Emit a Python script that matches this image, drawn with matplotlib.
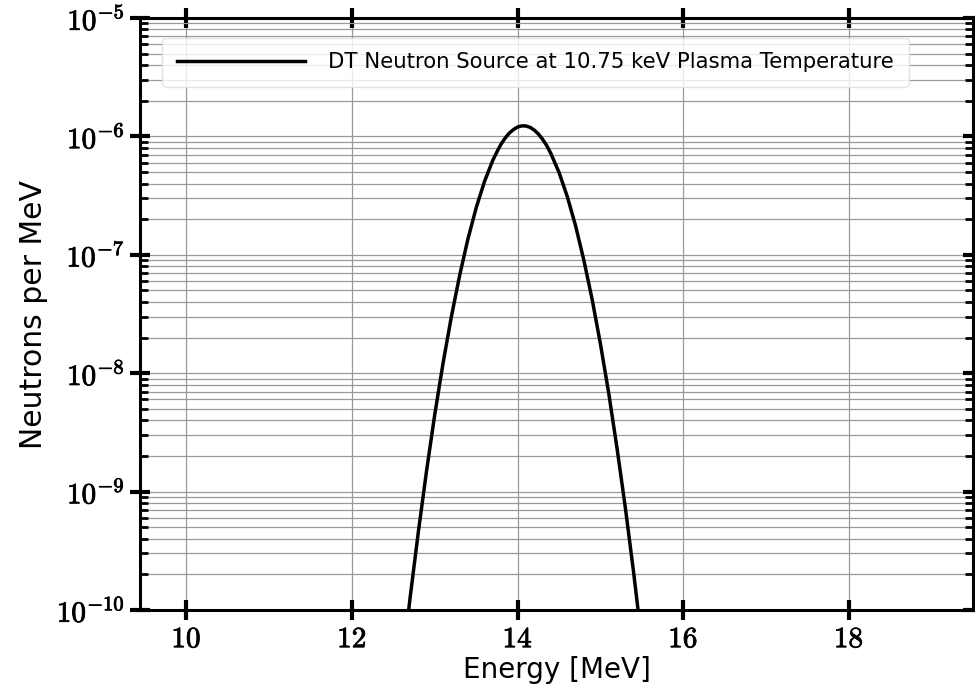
import numpy as np
import matplotlib
matplotlib.use("Agg")
import matplotlib.pyplot as plt
import matplotlib.patheffects as pe
from matplotlib.ticker import FuncFormatter, LogLocator, NullFormatter

plt.rcParams['mathtext.fontset'] = 'cm'

# energy [MeV] and spectrum [neutrons per MeV]
energy = [12.5, 12.6, 12.7, 12.8, 12.9, 13.0, 13.1, 13.2, 13.3, 13.4,
          13.5, 13.6, 13.7, 13.75, 13.8, 13.85, 13.9, 13.95, 14.0, 14.05,
          14.1, 14.15, 14.2, 14.25, 14.3, 14.35, 14.4, 14.5, 14.6, 14.7,
          14.8, 14.9, 15.0, 15.1, 15.2, 15.3, 15.4, 15.5, 15.6]
flux = [6.9e-12, 3.1e-11, 1.24e-10, 4.5e-10, 1.49e-9, 4.5e-9, 1.22e-8, 3.0e-8,
        6.7e-8, 1.36e-7, 2.50e-7, 4.16e-7, 6.28e-7, 7.4e-7, 8.60e-7, 9.7e-7,
        1.067e-6, 1.143e-6, 1.201e-6, 1.228e-6, 1.225e-6, 1.193e-6, 1.132e-6,
        1.05e-6, 9.49e-7, 8.4e-7, 7.21e-7, 4.97e-7, 3.10e-7, 1.76e-7, 9.0e-8,
        4.2e-8, 1.77e-8, 6.8e-9, 2.34e-9, 7.4e-10, 2.10e-10, 5.4e-11, 1.27e-11]
label = "DT Neutron Source at 10.75 keV Plasma Temperature"

fig = plt.figure(figsize=(9.75, 6.96), dpi=100)
ax = fig.add_axes([0.1436, 0.1236, 0.8544, 0.8505])

ax.plot(energy, flux, color='black', lw=2.5, label=label)
ax.set_yscale('log')
ax.set_xlim(9.44, 19.5)
ax.set_ylim(1e-10, 1e-5)
ax.set_xticks([10, 12, 14, 16, 18])
ax.yaxis.set_major_locator(LogLocator(base=10, numticks=10))
ax.yaxis.set_minor_locator(LogLocator(base=10, subs=np.arange(2, 10), numticks=20))
ax.yaxis.set_minor_formatter(NullFormatter())
ax.xaxis.set_major_formatter(FuncFormatter(lambda v, p: r'$\mathbf{%d}$' % v))
ax.yaxis.set_major_formatter(FuncFormatter(
    lambda v, p: r'$\mathbf{10^{%d}}$' % int(round(np.log10(v)))))

ax.grid(True, which='major', color='#999999', lw=0.9)
ax.grid(True, which='minor', axis='y', color='#999999', lw=0.9)
ax.set_axisbelow(True)

ax.tick_params(which='major', direction='inout', length=14, width=3,
               top=True, right=True, labelsize=21, pad=4)
ax.tick_params(which='minor', direction='in', length=6, width=2,
               left=True, right=True)
for s in ax.spines.values():
    s.set_linewidth(2.2)

# thicken the CM digits so they read as bold
for t in ax.get_xticklabels() + ax.get_yticklabels():
    t.set_path_effects([pe.withStroke(linewidth=0.6, foreground='black')])

ax.set_xlabel('Energy [MeV]', fontsize=20, labelpad=2)
ax.set_ylabel('Neutrons per MeV', fontsize=21.5, labelpad=6)

leg = ax.legend(loc='upper left', bbox_to_anchor=(0.014, 0.985), fontsize=15.3,
                handlelength=6.0, handletextpad=1.1, borderpad=0.7,
                fancybox=True, framealpha=0.8)
leg.get_frame().set_edgecolor('#dddddd')

fig.savefig('out.png', dpi=100)
